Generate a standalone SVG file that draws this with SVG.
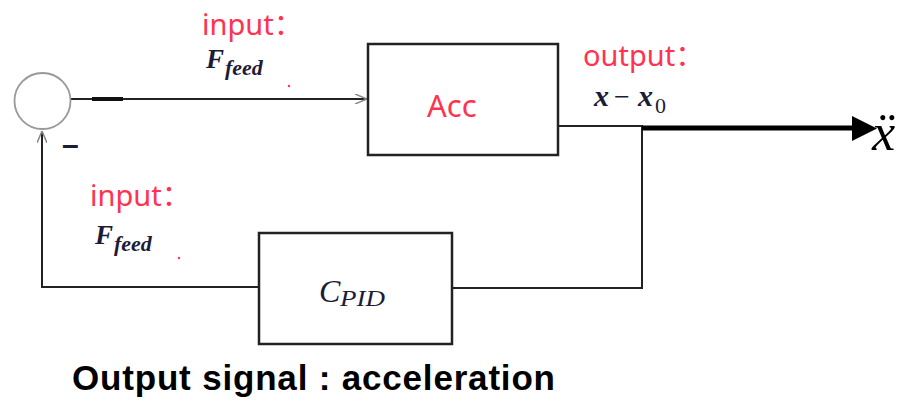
<svg xmlns="http://www.w3.org/2000/svg" width="908" height="401" viewBox="0 0 908 401">
<style>
.box{fill:#fff;stroke:#222;stroke-width:2.5}
.wire{fill:none;stroke:#222;stroke-width:2}
.lbl{font-family:"Noto Sans","Noto Sans CJK SC",sans-serif;fill:#ff3350}
.math{font-family:"Liberation Serif","DejaVu Serif",serif;font-style:italic;fill:#1c1c38}
.b{font-weight:bold}
.dot{fill:#ff3350}
</style>
<defs>
<marker id="open" viewBox="0 0 12 10" refX="12" refY="5" markerWidth="12" markerHeight="10" markerUnits="userSpaceOnUse" orient="auto">
<path d="M0,0 L12,5 L0,10" fill="none" stroke="#888" stroke-width="1.5"/>
</marker>
</defs>
<rect width="908" height="401" fill="#fff"/>
<g id="connectors">
<line class="wire" x1="71" y1="99" x2="367" y2="99" marker-end="url(#open)"/>
<line x1="92" y1="99" x2="123" y2="99" stroke="#111" stroke-width="4"/>
<polyline class="wire" points="558,126 642,126 642,288 452,288"/>
<polyline class="wire" points="259,287 42,287 42,131" marker-end="url(#open)"/>
<line x1="642" y1="128" x2="855" y2="128" stroke="#000" stroke-width="5"/>
<polygon points="852,116 877,128.5 852,141" fill="#000"/>
</g>
<g id="sum">
<circle cx="42.5" cy="101" r="28" fill="none" stroke="#999" stroke-width="1.8"/>
<text x="62" y="155" font-family="Liberation Sans,sans-serif" font-size="30" font-weight="bold" fill="#1c1c38">–</text>
</g>
<g id="acc">
<rect class="box" x="368" y="44" width="190" height="111"/>
<text class="lbl" x="427" y="117" font-size="31">Acc</text>
</g>
<g id="cpid">
<rect class="box" x="259" y="233" width="193" height="111"/>
<text class="math" x="319" y="302" font-size="32">C</text>
<text class="math" x="340" y="306" font-size="24" textLength="45" lengthAdjust="spacingAndGlyphs">PID</text>
</g>
<g id="label-input-top">
<text class="lbl" x="202" y="35" font-size="29">input：</text>
<text class="math b" x="206" y="68" font-size="27">F</text>
<text class="math b" x="225" y="75" font-size="22">feed</text>
<circle class="dot" cx="289" cy="86" r="1.2"/>
</g>
<g id="label-input-bottom">
<text class="lbl" x="90" y="206" font-size="29">input：</text>
<text class="math b" x="95" y="244" font-size="27">F</text>
<text class="math b" x="114" y="251" font-size="22">feed</text>
<circle class="dot" cx="179" cy="258" r="1.2"/>
</g>
<g id="label-output">
<text class="lbl" x="583" y="66" font-size="29">output：</text>
<text class="math b" x="594" y="106" font-size="30">x</text>
<text x="614" y="106" font-family="Liberation Serif,serif" font-size="28" fill="#1c1c38">−</text>
<text class="math b" x="638" y="106" font-size="30">x</text>
<text x="655" y="113" font-family="Liberation Serif,serif" font-size="22" fill="#1c1c38">0</text>
</g>
<g id="xddot">
<text x="872" y="150" font-family="Liberation Serif,DejaVu Serif,serif" font-style="italic" font-size="52" fill="#000">ẍ</text>
</g>
<text x="72" y="390" font-family="Liberation Sans,Arial,sans-serif" font-weight="bold" font-size="35" fill="#000" textLength="483">Output signal : acceleration</text>
</svg>
